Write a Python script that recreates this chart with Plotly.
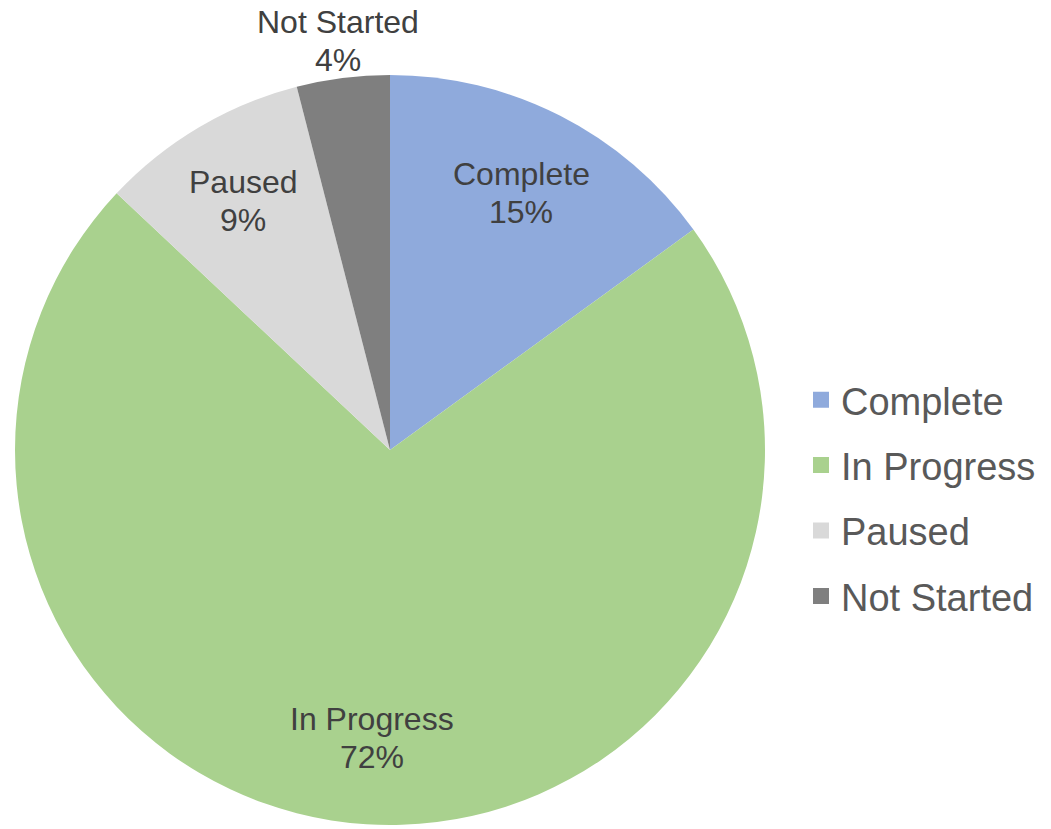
import math
import plotly.graph_objects as go

categories = ["Complete", "In Progress", "Paused", "Not Started"]
values = [15, 72, 9, 4]
colors = ["#8FAADC", "#A9D18E", "#D9D9D9", "#7F7F7F"]
label_inside = [True, True, True, False]

W, H = 1051, 829
cx, cy, r = 390, 450, 375          # pie centre / radius in pixels
inside_frac, outside_frac = 0.77, 1.10
LINE_GAP = 38                       # spacing between the two label lines
FONT = "Liberation Sans, Arial, sans-serif"

fig = go.Figure()
fig.add_trace(go.Pie(
    labels=categories,
    values=values,
    sort=False,
    direction="clockwise",
    rotation=0,
    marker=dict(colors=colors, line=dict(color="white", width=0)),
    textinfo="none",
    domain=dict(x=[(cx - r) / W, (cx + r) / W], y=[(H - cy - r) / H, (H - cy + r) / H]),
    hoverinfo="label+percent",
    showlegend=False,
))

# data labels placed from the slice mid-angles
total = sum(values)
cum = 0
for cat, v, inside in zip(categories, values, label_inside):
    mid = (cum + v / 2) / total * 2 * math.pi
    cum += v
    d = r * (inside_frac if inside else outside_frac)
    px = cx + d * math.sin(mid)
    py = cy - d * math.cos(mid)
    for txt, dy in ((cat, -LINE_GAP / 2), (f"{round(v / total * 100)}%", LINE_GAP / 2)):
        fig.add_annotation(
            x=px / W, y=(H - (py + dy)) / H, xref="paper", yref="paper",
            text=txt, showarrow=False, xanchor="center", yanchor="middle",
            font=dict(family=FONT, size=32, color="#404040"),
        )

# legend entries (square swatches)
for i, (cat, col) in enumerate(zip(categories, colors)):
    fig.add_trace(go.Scatter(
        x=[None], y=[None], mode="markers", name=cat,
        marker=dict(symbol="square", size=16, color=col),
        legendgroup=f"g{i}", showlegend=True, hoverinfo="skip",
    ))

fig.update_layout(
    width=W, height=H,
    margin=dict(l=0, r=0, t=0, b=0),
    paper_bgcolor="white",
    plot_bgcolor="white",
    xaxis=dict(visible=False),
    yaxis=dict(visible=False),
    showlegend=True,
    legend=dict(
        x=801 / W, y=(H - 498) / H, xanchor="left", yanchor="middle",
        font=dict(family=FONT, size=38, color="#595959"),
        bgcolor="rgba(0,0,0,0)",
        tracegroupgap=13,
        itemsizing="trace",
    ),
)

fig.write_html(
    "out.html",
    config={"displayModeBar": False},
    post_script="document.body.style.margin='0px';",
)
